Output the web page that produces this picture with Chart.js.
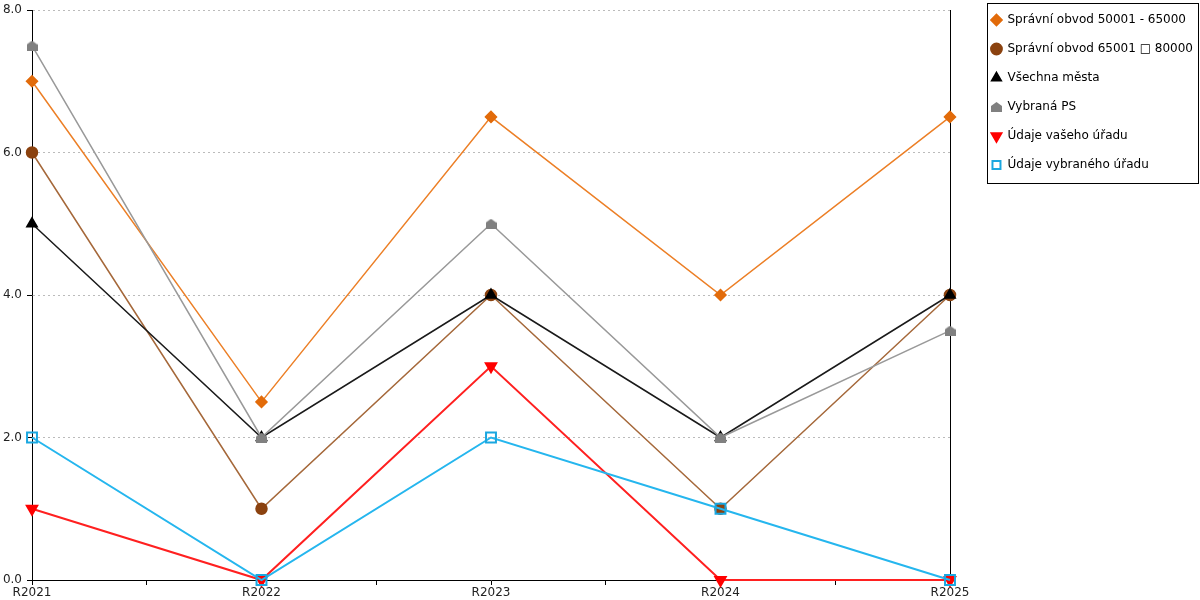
<!DOCTYPE html>
<html lang="cs">
<head>
    <meta charset="UTF-8">
    <title>Správní obvody</title>
    <script src="https://cdnjs.cloudflare.com/ajax/libs/Chart.js/4.4.1/chart.umd.min.js"></script>
    <style>
        body { margin: 0; background: #fff; }
        #wrap { width: 1200px; height: 600px; }
    </style>
</head>
<body>
<div id="wrap"><canvas id="lineChart"></canvas></div>
<script>
    // data
    var years = ['R2021', 'R2022', 'R2023', 'R2024', 'R2025'];
    var obvod50 = [7, 2.5, 6.5, 4, 6.5];
    var obvod65 = [6, 1, 4, 1, 4];
    var vsechnaMesta = [5, 2, 4, 2, 4];
    var vybranaPS = [7.5, 2, 5, 2, 3.5];
    var vasUrad = [1, 0, 3, 0, 0];
    var vybranyUrad = [2, 0, 2, 1, 0];
    var yTicks = [0, 2, 4, 6, 8];

    function toPoints(arr) {
        var pts = [];
        for (var i = 0; i < arr.length; i++) {
            pts.push({x: i, y: arr[i]});
        }
        return pts;
    }

    // little "house" marker for Vybraná PS
    function houseMarker() {
        var c = document.createElement('canvas');
        c.width = 11;
        c.height = 10;
        var g = c.getContext('2d');
        g.fillStyle = '#808080';
        g.beginPath();
        g.moveTo(5.5, 0);
        g.lineTo(11, 4);
        g.lineTo(11, 10);
        g.lineTo(0, 10);
        g.lineTo(0, 4);
        g.closePath();
        g.fill();
        return c;
    }

    var legendPad = 17;
    var fontSize = 12;

    // frame around the legend, and nudge it a bit
    var legendFrame = {
        id: 'legendFrame',
        afterLayout: function (chart) {
            var l = chart.legend;
            l.top -= 3;
            l.bottom -= 3;
            l.left += 11;
            l.right += 11;
        },
        afterDraw: function (chart) {
            var l = chart.legend;
            var n = l.legendItems.length;
            var first = l.top + legendPad + fontSize / 2;
            var last = first + (n - 1) * (fontSize + legendPad);
            var ctx = chart.ctx;
            ctx.save();
            ctx.strokeStyle = '#000';
            ctx.lineWidth = 1;
            var left = Math.round(l.left + legendPad - 4) + 0.5;
            var right = chart.width - 1.5;
            var top = Math.round(first - 18) + 1.5;
            var bottom = Math.round(last + 18) + 0.5;
            ctx.strokeRect(left, top, right - left, bottom - top);
            ctx.restore();
        }
    };

    Chart.defaults.font.family = 'DejaVu Sans';
    Chart.defaults.font.size = fontSize;
    Chart.defaults.color = '#222';

    var ctx = document.getElementById('lineChart');
    var chart = new Chart(ctx, {
        type: 'line',
        data: {
            datasets: [{
                label: 'Správní obvod 50001 - 65000',
                data: toPoints(obvod50),
                borderColor: '#ec7f26',
                backgroundColor: '#e26b0a',
                pointBorderColor: '#e26b0a',
                pointStyle: 'rectRot',
                pointRadius: 5.5,
                borderWidth: 1.5,
                order: 6
            }, {
                label: 'Správní obvod 65001 \u25A1 80000',
                data: toPoints(obvod65),
                borderColor: '#a5683a',
                backgroundColor: '#8b420f',
                pointBorderColor: '#8b420f',
                pointStyle: 'circle',
                pointRadius: 5.5,
                borderWidth: 1.5,
                order: 5
            }, {
                label: 'Všechna města',
                data: toPoints(vsechnaMesta),
                borderColor: '#1a1a1a',
                backgroundColor: '#000',
                pointBorderColor: '#000',
                pointStyle: 'triangle',
                pointRadius: 6,
                borderWidth: 1.5,
                order: 4
            }, {
                label: 'Vybraná PS',
                data: toPoints(vybranaPS),
                borderColor: '#999',
                backgroundColor: '#808080',
                pointBorderColor: '#808080',
                pointStyle: houseMarker(),
                pointRadius: 5.5,
                borderWidth: 1.5,
                order: 3
            }, {
                label: 'Údaje vašeho úřadu',
                data: toPoints(vasUrad),
                borderColor: '#ff2020',
                backgroundColor: '#ff0000',
                pointBorderColor: '#ff0000',
                pointStyle: 'triangle',
                pointRotation: 180,
                pointRadius: 6,
                borderWidth: 2,
                order: 2
            }, {
                label: 'Údaje vybraného úřadu',
                data: toPoints(vybranyUrad),
                borderColor: '#25b6ee',
                backgroundColor: 'rgba(0,0,0,0)',
                pointBackgroundColor: 'rgba(0,0,0,0)',
                pointBorderColor: '#1aa7e0',
                pointStyle: 'rect',
                pointRadius: 7,
                borderWidth: 2,
                order: 1
            }]
        },
        options: {
            responsive: true,
            maintainAspectRatio: false,
            animation: false,
            layout: { padding: { top: 0, right: 8, bottom: 0, left: 0 } },
            elements: {
                line: { tension: 0, fill: false },
                point: { borderWidth: 1, hoverRadius: 6 }
            },
            datasets: { line: { clip: false } },
            plugins: {
                tooltip: { enabled: false },
                legend: {
                    position: 'right',
                    align: 'start',
                    maxWidth: 300,
                    labels: {
                        usePointStyle: true,
                        boxWidth: 10,
                        boxHeight: 8,
                        padding: legendPad,
                        color: '#000',
                        font: { size: fontSize },
                        sort: function (a, b) { return a.datasetIndex - b.datasetIndex; }
                    }
                }
            },
            scales: {
                x: {
                    type: 'linear',
                    min: 0,
                    max: years.length - 1,
                    afterFit: function (scale) { scale.height = 20; },
                    grid: {
                        drawOnChartArea: false,
                        drawTicks: true,
                        tickLength: 5,
                        tickColor: '#000'
                    },
                    border: { color: '#000', width: 1 },
                    ticks: {
                        stepSize: 0.5,
                        autoSkip: false,
                        maxRotation: 0,
                        padding: 1,
                        color: '#222',
                        callback: function (v) {
                            return Number.isInteger(v) ? years[v] : '';
                        }
                    }
                },
                y: {
                    min: yTicks[0],
                    max: yTicks[yTicks.length - 1],
                    afterFit: function (scale) {
                        scale.width = 32;
                        scale.paddingTop = 10;
                    },
                    grid: {
                        color: function (c) {
                            return c.tick && c.tick.value === 0 ? 'rgba(0,0,0,0)' : '#bbb';
                        },
                        tickLength: 5,
                        tickColor: '#000',
                        tickBorderDash: []
                    },
                    border: { color: '#000', width: 1, dash: [2, 3] },
                    ticks: {
                        stepSize: 2,
                        padding: 5,
                        color: '#222',
                        callback: function (v) { return v.toFixed(1); }
                    }
                },
                y2: {
                    position: 'right',
                    min: yTicks[0],
                    max: yTicks[yTicks.length - 1],
                    afterFit: function (scale) {
                        var lw = scale.chart.legend ? scale.chart.legend.width : 0;
                        scale.width = Math.max(0, 1200 - 950 - 8 - lw);
                    },
                    grid: { display: false, drawTicks: false },
                    border: { display: true, color: '#000', width: 1 },
                    ticks: { display: false }
                }
            }
        },
        plugins: [legendFrame]
    });
</script>
</body>
</html>
